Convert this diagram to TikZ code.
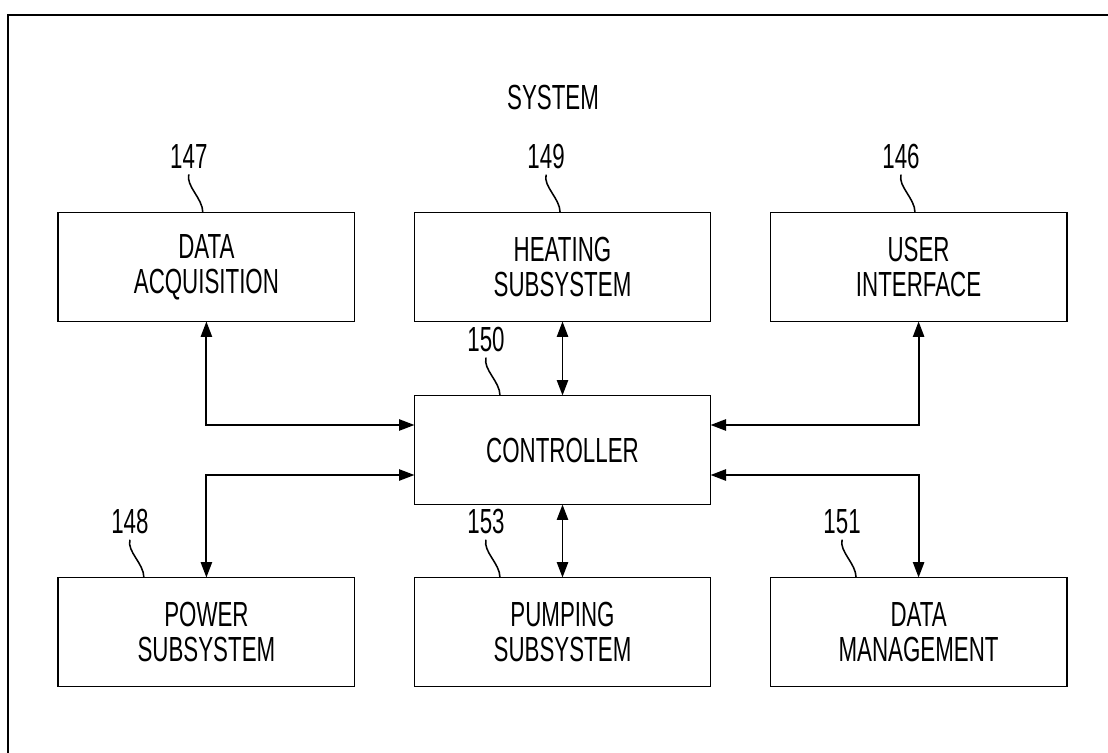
\documentclass[tikz,border=0pt]{standalone}
\usepackage{fontspec}
\setmainfont[FakeStretch=0.64]{Liberation Sans}
\usetikzlibrary{positioning,arrows.meta}

\begin{document}
\begin{tikzpicture}[x=0.025cm, y=-0.025cm, node distance=1.5cm,
  every node/.style={font=\fontsize{24.8pt}{24.9pt}\selectfont},
  unit/.style={draw, line width=1.3pt, fill=white, align=center, minimum width=7.4cm, minimum height=2.725cm, outer sep=0pt},
  link/.style={line width=1.3pt, {Triangle[length=11pt,width=8pt]}-{Triangle[length=11pt,width=8pt]}},
  refnum/.style={inner sep=0.14cm},
  leader/.style={line width=1.1pt}]
  \useasboundingbox (0,0) rectangle (1108,753);
  % outer frame (only top and left edges show)
  \draw[line width=1.3pt] (8,753) -- (8,15) -- (1108,15);
  \node (title) at (553,97) {SYSTEM};

  % blocks
  \node[unit] (ctrl) at (562.5,450) {CONTROLLER};
  \node[unit, above=1.85cm of ctrl] (heat) {HEATING\\SUBSYSTEM};
  \node[unit, left=of heat] (daq) {DATA\\ACQUISITION};
  \node[unit, right=of heat] (ui) {USER\\INTERFACE};
  \node[unit, below=1.825cm of ctrl] (pump) {PUMPING\\SUBSYSTEM};
  \node[unit, left=of pump] (power) {POWER\\SUBSYSTEM};
  \node[unit, right=of pump] (dm) {DATA\\MANAGEMENT};

  % connections to the controller
  \draw[link] (daq.south) |- ([yshift=0.625cm]ctrl.west);
  \draw[link] ([yshift=-0.625cm]ctrl.west) -| (power.north);
  \draw[link] (heat.south) -- (ctrl.north);
  \draw[link] (ctrl.south) -- (pump.north);
  \draw[link] ([yshift=0.625cm]ctrl.east) -| (ui.south);
  \draw[link] ([yshift=-0.625cm]ctrl.east) -| (dm.north);

  % reference numerals
  \coordinate (t147) at ([xshift=-0.09cm]daq.north);
  \node[refnum] (n147) at ([xshift=-0.35cm,yshift=1.4cm]t147) {147};
  \draw[leader] (n147.south) .. controls +(-3,12) and +(0,-14) .. (t147);
  \coordinate (t149) at ([xshift=-0.06cm]heat.north);
  \node[refnum] (n149) at ([xshift=-0.35cm,yshift=1.4cm]t149) {149};
  \draw[leader] (n149.south) .. controls +(-3,12) and +(0,-14) .. (t149);
  \coordinate (t146) at ([xshift=-0.09cm]ui.north);
  \node[refnum] (n146) at ([xshift=-0.35cm,yshift=1.4cm]t146) {146};
  \draw[leader] (n146.south) .. controls +(-3,12) and +(0,-14) .. (t146);
  \coordinate (t150) at ([xshift=-1.5625cm]ctrl.north);
  \node[refnum] (n150) at ([xshift=-0.35cm,yshift=1.4cm]t150) {150};
  \draw[leader] (n150.south) .. controls +(-3,12) and +(0,-14) .. (t150);
  \coordinate (t148) at ([xshift=-1.5625cm]power.north);
  \node[refnum] (n148) at ([xshift=-0.35cm,yshift=1.4cm]t148) {148};
  \draw[leader] (n148.south) .. controls +(-3,12) and +(0,-14) .. (t148);
  \coordinate (t153) at ([xshift=-1.5625cm]pump.north);
  \node[refnum] (n153) at ([xshift=-0.35cm,yshift=1.4cm]t153) {153};
  \draw[leader] (n153.south) .. controls +(-3,12) and +(0,-14) .. (t153);
  \coordinate (t151) at ([xshift=-1.5625cm]dm.north);
  \node[refnum] (n151) at ([xshift=-0.35cm,yshift=1.4cm]t151) {151};
  \draw[leader] (n151.south) .. controls +(-3,12) and +(0,-14) .. (t151);
\end{tikzpicture}
\end{document}
